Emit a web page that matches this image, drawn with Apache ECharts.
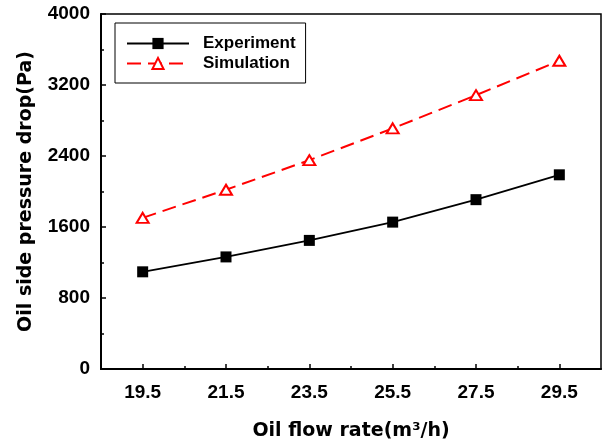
<!DOCTYPE html>
<html>
<head>
<meta charset="utf-8">
<script src="https://cdn.jsdelivr.net/npm/echarts@6/dist/echarts.min.js"></script>
<style>html,body{margin:0;padding:0;background:#fff}#c{width:605px;height:446px}</style>
</head>
<body>
<div id="c"></div>
<script>
const flowRates = [19.5, 21.5, 23.5, 25.5, 27.5, 29.5];
const experiment = [1095, 1263, 1449, 1655, 1908, 2188];
const simulation = [1703, 2020, 2353, 2711, 3085, 3473];
const xMajorTicks = [19.5, 21.5, 23.5, 25.5, 27.5, 29.5];
const xMinorTicks = [20.5, 22.5, 24.5, 26.5, 28.5];
const yTicks = [0, 800, 1600, 2400, 3200, 4000];

const chart = echarts.init(document.getElementById('c'));
const tickFont = {fontFamily: 'Liberation Sans', fontWeight: 'bold', fontSize: 19, color: '#000'};
const titleFont = {fontFamily: 'DejaVu Sans', fontWeight: 'bold', fontSize: 19, color: '#000'};
chart.setOption({
  animation: false,
  backgroundColor: '#fff',
  grid: {left: 101, right: 4, top: 14, bottom: 75, show: true, borderColor: '#000', borderWidth: 1.5, backgroundColor: 'transparent'},
  legend: {
    orient: 'vertical', left: 115, top: 23,
    padding: [12, 10, 11, 11], borderColor: '#000', borderWidth: 1,
    itemWidth: 62, itemHeight: 14, itemGap: 3,
    textStyle: {fontFamily: 'Liberation Sans', fontWeight: 'bold', fontSize: 17, color: '#000', padding: [0, 0, 0, 9]},
    data: ['Experiment', 'Simulation']
  },
  xAxis: [{
    type: 'value', min: 18.5, max: 30.5,
    name: 'Oil flow rate(m³/h)', nameLocation: 'middle', nameGap: 53, nameTextStyle: titleFont,
    axisLine: {show: true, lineStyle: {color: '#000', width: 2}},
    axisTick: {show: true, inside: true, length: 5, lineStyle: {color: '#000', width: 1.5}, customValues: xMajorTicks},
    axisLabel: {show: true, margin: 14, customValues: xMajorTicks, formatter: v => v.toFixed(1), ...tickFont},
    splitLine: {show: false}
  }, {
    type: 'value', min: 18.5, max: 30.5, position: 'bottom',
    axisLine: {show: false},
    axisTick: {show: true, inside: true, length: 3, lineStyle: {color: '#000', width: 1.5}, customValues: xMinorTicks},
    axisLabel: {show: false},
    splitLine: {show: false}
  }],
  yAxis: {
    type: 'value', min: 0, max: 4000, interval: 800,
    name: 'Oil side pressure drop(Pa)', nameLocation: 'middle', nameGap: 65, nameRotate: 90, nameTextStyle: titleFont,
    axisLine: {show: true, lineStyle: {color: '#000', width: 2}},
    axisTick: {show: true, inside: true, length: 5, lineStyle: {color: '#000', width: 1.5}},
    minorTick: {show: true, splitNumber: 2, length: 3, lineStyle: {color: '#000', width: 1.5}},
    axisLabel: {margin: 11, customValues: yTicks, formatter: v => String(v), ...tickFont},
    splitLine: {show: false}
  },
  series: [{
    name: 'Experiment', type: 'line', xAxisIndex: 0,
    data: flowRates.map((x, i) => [x, experiment[i]]),
    symbol: 'rect', symbolSize: 11,
    itemStyle: {color: '#000'},
    lineStyle: {color: '#000', width: 1.8}
  }, {
    name: 'Simulation', type: 'line', xAxisIndex: 0,
    data: flowRates.map((x, i) => [x, simulation[i]]),
    symbol: 'triangle', symbolSize: [12, 10],
    itemStyle: {color: '#fff', borderColor: '#ff0000', borderWidth: 2},
    lineStyle: {color: '#ff0000', width: 2, type: [14, 7]}
  }]
});
</script>
</body>
</html>
